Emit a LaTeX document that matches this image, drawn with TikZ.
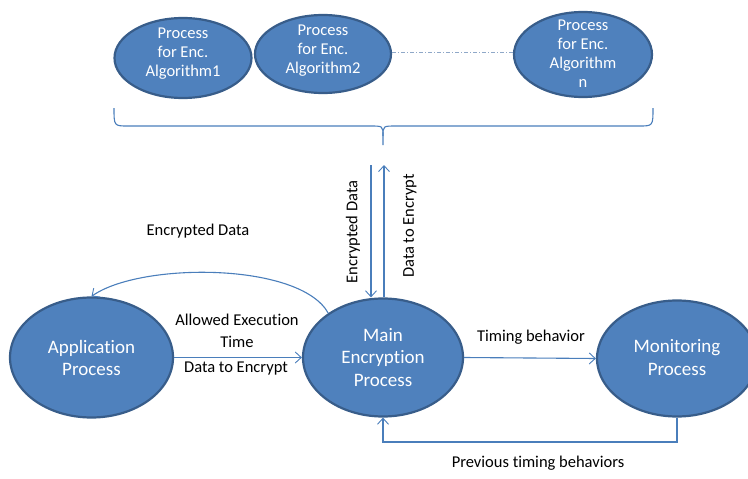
\documentclass[tikz,border=0pt]{standalone}
\usepackage{fontspec}
\setmainfont{Carlito}[Ligatures={NoCommon}]
\usetikzlibrary{shapes.geometric,arrows.meta}
\definecolor{ofill}{HTML}{4F81BD}
\definecolor{oedge}{HTML}{385D8A}
\definecolor{oline}{HTML}{4A7EBB}
\definecolor{odots}{HTML}{8FA8C8}
\begin{document}
\begin{tikzpicture}[x=1pt,y=-1pt,
  shapebox/.style={ellipse, draw=oedge, line width=2.2pt, fill=ofill, inner sep=0pt},
  bigtext/.style={text=white, align=center, inner sep=0pt, font=\fontsize{19}{22.5}\selectfont},
  algtext/.style={text=white, align=center, inner sep=0pt, font=\fontsize{16.5}{19}\selectfont},
  lbl/.style={text=black, align=center, inner sep=0pt, font=\fontsize{16.5}{22}\selectfont},
  conn/.style={draw=oline, line width=1.1pt, -{Straight Barb[length=6pt,width=11pt,line width=0.9pt]}},
  bracepath/.style={draw=oline, line width=1.1pt},
]
\useasboundingbox (0,0) rectangle (748,479);

% algorithm processes
\node[shapebox, minimum width=137pt, minimum height=80pt] (a1) at (183,58) {};
\node[algtext] (a1t) at (183,54) {Process\\for Enc.\\Algorithm1};
\node[shapebox, minimum width=136pt, minimum height=78pt] (a2) at (323,54) {};
\node[algtext] (a2t) at (323,51) {Process\\for Enc.\\Algorithm2};
\node[shapebox, minimum width=138pt, minimum height=85pt] (an) at (583,54.5) {};
\node[algtext] (ant) at (583,54) {Process\\for Enc.\\Algorithm\\n};
\draw[odots, line width=0.9pt, dash pattern=on 4pt off 2pt on 1pt off 2pt] (a2.east |- 0,52) -- (an.west |- 0,52);

% brace under the algorithms
\coordinate (btip) at (383,145);
\draw[bracepath] (114,108) .. controls (114,126) .. (128,126) -- (370,126)
  .. controls (383,126) .. (383,136) -- (btip);
\draw[bracepath] (653,108) .. controls (653,126) .. (639,126) -- (396,126)
  .. controls (383,126) .. (383,136);

% main processes
\node[shapebox, minimum width=163pt, minimum height=120pt] (app) at (91.5,357.5) {};
\node[bigtext] (appt) at (91.5,358) {Application\\Process};
\node[shapebox, minimum width=160pt, minimum height=118pt] (main) at (383,357.5) {};
\node[bigtext] (maint) at (383,357.5) {Main\\Encryption\\Process};
\node[shapebox, minimum width=160pt, minimum height=116pt] (mon) at (677,358.5) {};
\node[bigtext] (mont) at (677,357.5) {Monitoring\\Process};

% vertical exchange with the algorithm layer
\coordinate (edtop) at (371,165);
\coordinate (dttop) at (384,165);
\draw[conn] (edtop) -- (edtop |- main.north);
\draw[conn] (dttop |- main.north) -- (dttop);
\node[lbl, rotate=90] (edl) at (353,232) {Encrypted Data};
\node[lbl, rotate=90] (dtl) at (410,226) {Data to Encrypt};

% application <-> main
\draw[conn] (app.east) -- (main.west);
\node[lbl] (aet) at (237,331) {Allowed Execution\\Time};
\node[lbl] (dte) at (236,369) {Data to Encrypt};
\draw[conn] (main.141) .. controls (300,262) and (140,262) .. (app.north);
\node[lbl] (encd) at (198,231) {Encrypted Data};

% main <-> monitoring
\draw[conn] (main.east) -- (mon.west);
\node[lbl] (tb) at (531,337) {Timing behavior};
\coordinate (fb) at (677,442);
\draw[conn] (mon.south) -- (fb) -| (main.south);
\node[lbl] (ptb) at (538,463) {Previous timing behaviors};
\end{tikzpicture}
\end{document}
